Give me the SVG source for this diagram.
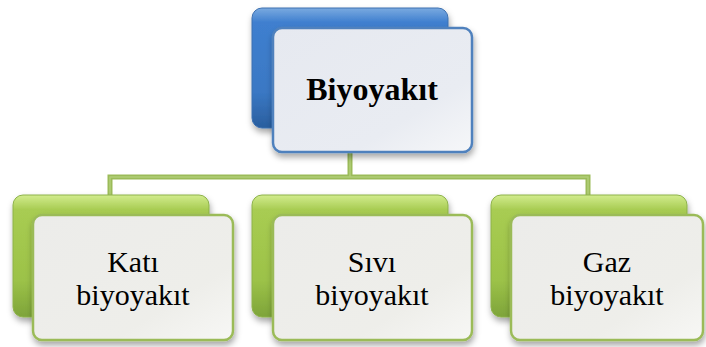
<svg xmlns="http://www.w3.org/2000/svg" width="706" height="347" viewBox="0 0 706 347">
<defs>
<linearGradient id="gBlue" x1="0" y1="0" x2="0" y2="1">
<stop offset="0" stop-color="#7aaae0"/>
<stop offset="0.12" stop-color="#3f7fcf"/>
<stop offset="0.7" stop-color="#3a78c4"/>
<stop offset="1" stop-color="#2a5e9e"/>
</linearGradient>
<linearGradient id="gGreen" x1="0" y1="0" x2="0" y2="1">
<stop offset="0" stop-color="#d2ec8e"/>
<stop offset="0.12" stop-color="#a8cc52"/>
<stop offset="0.7" stop-color="#9cc248"/>
<stop offset="1" stop-color="#7ea43a"/>
</linearGradient>
<linearGradient id="gFrontB" x1="0" y1="0" x2="1" y2="1">
<stop offset="0" stop-color="#e6e9f0"/>
<stop offset="0.7" stop-color="#e9ecf2"/>
<stop offset="1" stop-color="#f6f7f9"/>
</linearGradient>
<linearGradient id="gFrontG" x1="0" y1="0" x2="1" y2="1">
<stop offset="0" stop-color="#ececea"/>
<stop offset="0.7" stop-color="#eeeeea"/>
<stop offset="1" stop-color="#f7f7f5"/>
</linearGradient>
<filter id="sh" x="-10%" y="-10%" width="125%" height="130%">
<feDropShadow dx="1" dy="4" stdDeviation="3" flood-color="#000" flood-opacity="0.35"/>
</filter>
</defs>
<style>
.back-b{fill:url(#gBlue);stroke:#3d70b0;stroke-width:1}
.front-b{fill:url(#gFrontB);stroke:#4f81bd;stroke-width:2.5}
.back-g{fill:url(#gGreen);stroke:#8db24a;stroke-width:1}
.front-g{fill:url(#gFrontG);stroke:#9bbb59;stroke-width:2.5}
.conn{fill:none;stroke:#9bbb59;stroke-width:5}
.conn2{fill:none;stroke:#b2cf78;stroke-width:1.5}
.t{font-family:"Liberation Serif","Times New Roman",serif;fill:#000;text-anchor:middle}
.tb{font-size:32px;font-weight:bold}
.tr{font-size:30px}
</style>
<g id="connectors">
<path class="conn" d="M350,152 V177 M110,195 V177 H588 V195"/>
<path class="conn2" d="M350,152 V177 M110,195 V177 H588 V195"/>
</g>
<g id="node-biyoyakit">
<rect class="back-b" x="252" y="8" width="196" height="120" rx="10" filter="url(#sh)"/>
<rect class="front-b" x="273" y="28" width="199" height="124" rx="9" filter="url(#sh)"/>
<text class="t tb" x="372" y="100">Biyoyakıt</text>
</g>
<g id="node-kati">
<rect class="back-g" x="13" y="195" width="196" height="122" rx="10" filter="url(#sh)"/>
<rect class="front-g" x="33" y="215" width="200" height="125" rx="9" filter="url(#sh)"/>
<text class="t tr" x="133" y="272">Katı</text>
<text class="t tr" x="133" y="305">biyoyakıt</text>
</g>
<g id="node-sivi">
<rect class="back-g" x="252" y="195" width="196" height="122" rx="10" filter="url(#sh)"/>
<rect class="front-g" x="273" y="215" width="199" height="125" rx="9" filter="url(#sh)"/>
<text class="t tr" x="372" y="272">Sıvı</text>
<text class="t tr" x="372" y="305">biyoyakıt</text>
</g>
<g id="node-gaz">
<rect class="back-g" x="491" y="195" width="196" height="122" rx="10" filter="url(#sh)"/>
<rect class="front-g" x="511" y="215" width="192" height="125" rx="9" filter="url(#sh)"/>
<text class="t tr" x="607" y="272">Gaz</text>
<text class="t tr" x="607" y="305">biyoyakıt</text>
</g>
</svg>
